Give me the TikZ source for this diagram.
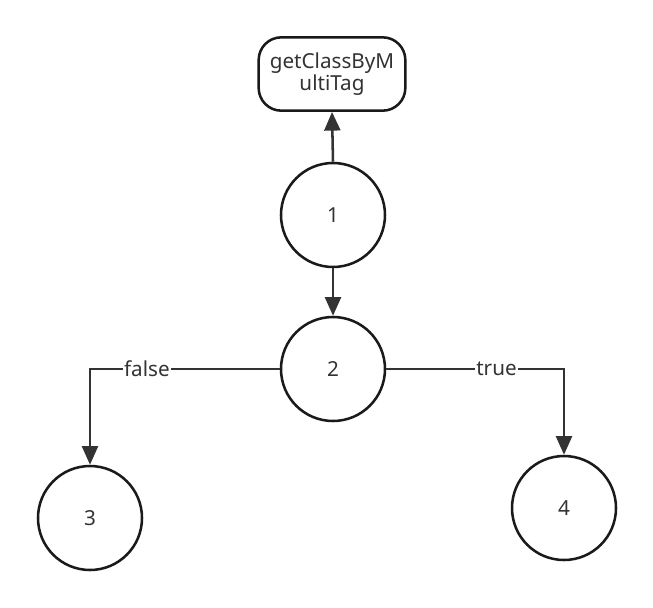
\documentclass[tikz,border=0pt]{standalone}
\usepackage{fontspec}
\setmainfont{Noto Sans}
\usetikzlibrary{arrows.meta}
\definecolor{ink}{HTML}{1A1A1A}
\definecolor{txt}{HTML}{333333}
\tikzset{
  state/.style={circle, draw=ink, line width=1.9pt, minimum size=78pt, inner sep=0pt,
    text=txt, font=\fontsize{15.5}{18}\selectfont},
  callbox/.style={rectangle, rounded corners=17pt, draw=ink, line width=1.9pt,
    minimum width=110pt, minimum height=55pt, align=center, text=txt,
    font=\fontsize{15.5}{16.5}\selectfont},
  flow/.style={draw=txt, line width=1.9pt, -{Triangle[length=14pt,width=12pt]}},
  edgelabel/.style={fill=white, inner sep=1pt, text=txt, font=\fontsize{15.5}{18}\selectfont}
}
\begin{document}
\begin{tikzpicture}[x=0.75pt, y=-0.75pt]
  \useasboundingbox (0,0) rectangle (653,607);
  \node[callbox] (tag) at (332,74) {getClassByM\\ultiTag};
  \node[state] (n1) at (333,215) {1};
  \node[state] (n2) at (333,369) {2};
  \node[state] (n3) at (90,518) {3};
  \node[state] (n4) at (564,508) {4};

  \draw[flow] (n1.north) -- (tag.south);
  \draw[flow] (n1.south) -- (n2.north);
  \draw[flow] (n2.west) -| node[edgelabel, pos=0.35] {false} (n3.north);
  \draw[flow] (n2.east) -| node[edgelabel, pos=0.31] {true} (n4.north);
\end{tikzpicture}
\end{document}
